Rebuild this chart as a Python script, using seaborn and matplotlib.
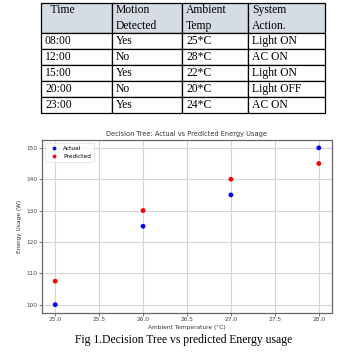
import matplotlib
matplotlib.use("Agg")
import matplotlib.pyplot as plt
import pandas as pd
import seaborn as sns

# table data
col_labels = ["  Time\n", "Motion\nDetected", "Ambient\nTemp", "System\nAction."]
times = ["08:00", "12:00", "15:00", "20:00", "23:00"]
motion = ["Yes", "No", "Yes", "No", "Yes"]
temps = ["25*C", "28*C", "22*C", "20*C", "24*C"]
actions = ["Light ON", "AC ON", "Light ON", "Light OFF", "AC ON"]

# scatter data
ambient_temp = [25.0, 26.0, 27.0, 28.0]
actual_usage = [100, 125, 135, 150]
predicted_usage = [107.5, 130, 140, 145]

df = pd.DataFrame({
    "temp": ambient_temp * 2,
    "usage": actual_usage + predicted_usage,
    "kind": ["Actual"] * len(ambient_temp) + ["Predicted"] * len(ambient_temp),
})

W, H = 351, 355
fig = plt.figure(figsize=(W / 100, H / 100), dpi=100)

# ---- table ----
tx0, tx1, ty0, ty1 = 40.7, 325.0, 2.7, 113.0
ax_t = fig.add_axes([tx0 / W, 1 - ty1 / H, (tx1 - tx0) / W, (ty1 - ty0) / H])
ax_t.axis("off")
col_w = [71.0, 70.6, 65.4, 77.3]
tot = sum(col_w)
rows = [list(r) for r in zip(times, motion, temps, actions)]
tbl = ax_t.table(cellText=rows, colLabels=col_labels, cellLoc="left", colLoc="left",
                 colWidths=[w / tot for w in col_w], bbox=[0, 0, 1, 1])
tbl.auto_set_font_size(False)
for (r, c), cell in tbl.get_celld().items():
    cell.set_linewidth(0.9)
    cell.set_edgecolor("black")
    cell.PAD = 0.06
    cell.get_text().set_fontfamily("Liberation Serif")
    cell.get_text().set_fontsize(8.4)
    if r == 0:
        cell.set_height(30.3)
        cell.set_facecolor("#d6dce4")
        cell.get_text().set_linespacing(1.4)
    else:
        cell.set_height(16)

# ---- scatter ----
ax = fig.add_axes([42 / W, 1 - 312.5 / H, (332 - 42) / W, (312.5 - 140) / H])
sns.scatterplot(data=df, x="temp", y="usage", hue="kind",
                palette={"Actual": "blue", "Predicted": "red"},
                s=12, linewidth=0, ax=ax, zorder=3)
ax.set_title("Decision Tree: Actual vs Predicted Energy Usage", fontsize=4.8,
             color="#333333", pad=3)
ax.set_xlabel("Ambient Temperature (°C)", fontsize=4.2, color="#333333", labelpad=2)
ax.set_ylabel("Energy Usage (W)", fontsize=4.2, color="#333333", labelpad=3)
ax.set_xticks([25.0, 25.5, 26.0, 26.5, 27.0, 27.5, 28.0])
ax.set_yticks([100, 110, 120, 130, 140, 150])
ax.tick_params(labelsize=4.2, colors="#444444", length=2, width=0.5, pad=1.5)
ax.grid(True, color="#d6d6d6", linewidth=0.8, zorder=0)
ax.set_axisbelow(True)
for sp in ax.spines.values():
    sp.set_color("#666666")
    sp.set_linewidth(0.9)
leg = ax.legend(loc="upper left", fontsize=4.2, markerscale=0.8, frameon=True,
                borderpad=0.5, handletextpad=0.6, labelspacing=0.5)
leg.get_frame().set_linewidth(0.4)

fig.text(184 / W, 1 - 340 / H, "Fig 1.Decision Tree vs predicted Energy usage",
         ha="center", va="center", fontsize=8.4, family="Liberation Serif")

fig.savefig("out.png", dpi=100)
